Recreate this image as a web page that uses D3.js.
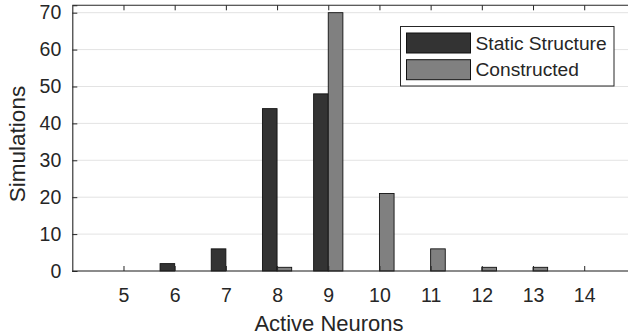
<!DOCTYPE html>
<html>
<head>
<meta charset="utf-8">
<script src="https://cdn.jsdelivr.net/npm/d3@7"></script>
<style>
  html, body { margin: 0; padding: 0; background: #fff; }
  svg { display: block; }
  text { font-family: "Liberation Sans", Arial, Helvetica, sans-serif; fill: #262626; }
</style>
</head>
<body>
<svg id="chart" width="628" height="336"></svg>
<script>
// Neuron counts on the x axis
const activeNeurons = [5, 6, 7, 8, 9, 10, 11, 12, 13, 14];
// Number of simulations per count, for each network type
const staticStructure = [0, 2, 6, 44, 48, 0, 0, 0, 0, 0];
const constructed     = [0, 0, 0, 1, 70, 21, 6, 1, 1, 0];
const yTicks = [0, 10, 20, 30, 40, 50, 60, 70];
const seriesNames = ["Static Structure", "Constructed"];
const seriesColors = ["#333333", "#808080"];

const svg = d3.select("#chart");
const plotLeft = 72.3, plotTop = 5.3, plotBottom = 271, plotRight = 635.4;

const x = d3.scaleLinear().domain([4, 15]).range([plotLeft, plotRight]);
const y = d3.scaleLinear().domain([0, 72]).range([plotBottom, plotTop]);

const step = x(1) - x(0);
const groupWidth = step * (2 / 3.5);
const barW = groupWidth / 2;

// horizontal grid
svg.append("g").selectAll("line").data(yTicks).join("line")
  .attr("x1", plotLeft).attr("x2", 640)
  .attr("y1", d => y(d)).attr("y2", d => y(d))
  .attr("stroke", "#e3e3e3").attr("stroke-width", 1);

// bars
const series = [staticStructure, constructed];
series.forEach((vals, si) => {
  svg.append("g").selectAll("rect").data(vals).join("rect")
    .attr("x", (d, i) => x(activeNeurons[i]) - groupWidth / 2 + si * barW)
    .attr("y", d => y(d))
    .attr("width", barW)
    .attr("height", d => y(0) - y(d))
    .attr("fill", seriesColors[si])
    .attr("stroke", "#111")
    .attr("stroke-width", 0.9);
});

// axes (ticks point inward)
const axisColor = "#262626";
const xAxis = svg.append("g").attr("transform", `translate(0,${plotBottom})`)
  .call(d3.axisBottom(x).tickValues(activeNeurons).tickSize(-5).tickPadding(17).tickFormat(d3.format("d")));
const xTop = svg.append("g").attr("transform", `translate(0,${plotTop})`)
  .call(d3.axisTop(x).tickValues(activeNeurons).tickSize(-5).tickFormat(""));
const yAxis = svg.append("g").attr("transform", `translate(${plotLeft},0)`)
  .call(d3.axisLeft(y).tickValues(yTicks).tickSize(-5).tickPadding(11));

[xAxis, xTop, yAxis].forEach(g => {
  g.select(".domain").attr("stroke", axisColor).attr("stroke-width", 1.1);
  g.selectAll(".tick line").attr("stroke", axisColor).attr("stroke-width", 1);
  g.selectAll(".tick text").attr("fill", "#262626").style("font-size", "19.5px")
    .style("font-family", '"Liberation Sans", Arial, sans-serif');
});
xAxis.select(".domain").attr("d", `M${plotLeft},0H640`);
xTop.select(".domain").attr("d", `M${plotLeft},0H640`);

// axis titles
svg.append("text").attr("x", 329).attr("y", 331)
  .attr("text-anchor", "middle").style("font-size", "22px").text("Active Neurons");
svg.append("text").attr("transform", "translate(25,144) rotate(-90)")
  .attr("text-anchor", "middle").style("font-size", "22.5px").text("Simulations");

// legend
const lg = svg.append("g");
lg.append("rect").attr("x", 400.5).attr("y", 26.5).attr("width", 213.5).attr("height", 59.5)
  .attr("fill", "#fff").attr("stroke", axisColor).attr("stroke-width", 1);
seriesNames.forEach((name, i) => {
  const yy = 33 + i * 26.7;
  lg.append("rect").attr("x", 406.5).attr("y", yy).attr("width", 64).attr("height", 20)
    .attr("fill", seriesColors[i]).attr("stroke", "#111").attr("stroke-width", 1);
  lg.append("text").attr("x", 475.5).attr("y", yy + 10).attr("dy", "0.35em")
    .style("font-size", "19.2px").attr("fill", "#000").text(name);
});
</script>
</body>
</html>
